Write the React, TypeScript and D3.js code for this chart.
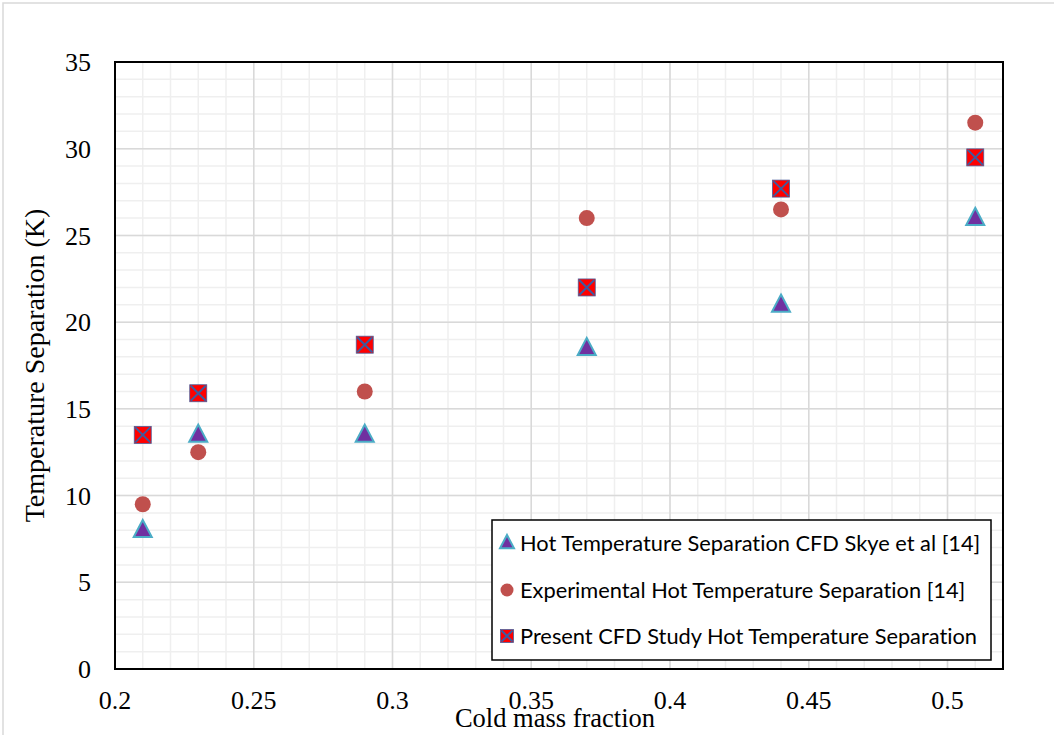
import * as d3 from 'd3';
import React from 'react';

// cold mass fraction values shared by all three series
const coldFraction = [0.21, 0.23, 0.29, 0.37, 0.44, 0.51];
const skyeCfd = [8, 13.5, 13.5, 18.5, 21, 26];
const experimental = [9.5, 12.5, 16, 26, 26.5, 31.5];
const presentCfd = [13.5, 15.9, 18.7, 22, 27.7, 29.5];

const xTickValues = [0.2, 0.25, 0.3, 0.35, 0.4, 0.45, 0.5];
const xTickLabels = ["0.2", "0.25", "0.3", "0.35", "0.4", "0.45", "0.5"];
const yTickValues = [0, 5, 10, 15, 20, 25, 30, 35];

const legendLabels = [
  "Hot Temperature Separation CFD Skye et al [14]",
  "Experimental Hot Temperature Separation [14]",
  "Present CFD Study Hot Temperature Separation",
];

const W = 1054, H = 735;
const plot = { left: 115, right: 1003, top: 62, bottom: 669 };

function Triangle({ x, y, s }: { x: number; y: number; s: number }) {
  const h = s * 0.95;
  const p = `M${x},${y - h * 0.6} L${x + s / 2},${y + h * 0.4} L${x - s / 2},${y + h * 0.4} Z`;
  return <path d={p} fill="#7030a0" stroke="#4bacc6" strokeWidth={2} strokeLinejoin="miter" />;
}

function Dot({ x, y, r }: { x: number; y: number; r: number }) {
  return <circle cx={x} cy={y} r={r} fill="#c0504d" />;
}

function CrossSquare({ x, y, s }: { x: number; y: number; s: number }) {
  const h = s / 2;
  return (
    <g>
      <rect x={x - h} y={y - h} width={s} height={s} fill="#ff0000" stroke="#4a5f9c" strokeWidth={0.8} />
      <path d={`M${x - h + 1},${y - h + 1} L${x + h - 1},${y + h - 1} M${x + h - 1},${y - h + 1} L${x - h + 1},${y + h - 1}`}
        stroke="#3f5a9e" strokeWidth={2} />
    </g>
  );
}

export default function App() {
  const x = d3.scaleLinear().domain([0.2, 0.52]).range([plot.left, plot.right]);
  const y = d3.scaleLinear().domain([0, 35]).range([plot.bottom, plot.top]);

  const xMinor = x.ticks(32);
  const yMinor = y.ticks(35);

  const serif = "'Liberation Serif', 'Times New Roman', serif";
  const sans = "Lato, 'Open Sans', sans-serif";

  const lg = { x: 492, y: 520, w: 499, h: 140 };
  const rowY = [543, 590, 636];

  return (
    <svg width={W} height={H} style={{ position: 'absolute', left: 0, top: 0, background: '#fff' }}>
      <rect x={3} y={3} width={W + 10} height={H + 10} fill="#fff" stroke="#d9d9d9" strokeWidth={1.5} />

      {/* minor grid */}
      <g stroke="#efefef" strokeWidth={1.5}>
        {xMinor.map(v => <line key={'xm' + v} x1={x(v)} x2={x(v)} y1={plot.top} y2={plot.bottom} />)}
        {yMinor.map(v => <line key={'ym' + v} y1={y(v)} y2={y(v)} x1={plot.left} x2={plot.right} />)}
      </g>
      {/* major grid */}
      <g stroke="#d9d9d9" strokeWidth={1.5}>
        {xTickValues.map(v => <line key={'xM' + v} x1={x(v)} x2={x(v)} y1={plot.top} y2={plot.bottom} />)}
        {yTickValues.map(v => <line key={'yM' + v} y1={y(v)} y2={y(v)} x1={plot.left} x2={plot.right} />)}
      </g>

      <rect x={plot.left} y={plot.top} width={plot.right - plot.left} height={plot.bottom - plot.top}
        fill="none" stroke="#000" strokeWidth={2} />

      {/* tick labels */}
      <g fontFamily={serif} fontSize={26} fill="#000">
        {yTickValues.map(v => (
          <text key={'yl' + v} x={91} y={y(v)} dy="0.35em" textAnchor="end">{v}</text>
        ))}
        {xTickValues.map((v, i) => (
          <text key={'xl' + v} x={x(v)} y={709} textAnchor="middle">{xTickLabels[i]}</text>
        ))}
      </g>

      <text x={555} y={727} textAnchor="middle" fontFamily={serif} fontSize={26.5}>
        Cold mass fraction
      </text>
      <text transform={`translate(44,${(plot.top + plot.bottom) / 2}) rotate(-90)`} textAnchor="middle"
        fontFamily={serif} fontSize={28}>
        Temperature Separation (K)
      </text>

      {/* series */}
      <g>
        {coldFraction.map((c, i) => <Triangle key={'t' + i} x={x(c)} y={y(skyeCfd[i])} s={18} />)}
        {coldFraction.map((c, i) => <Dot key={'c' + i} x={x(c)} y={y(experimental[i])} r={8} />)}
        {coldFraction.map((c, i) => <CrossSquare key={'s' + i} x={x(c)} y={y(presentCfd[i])} s={17} />)}
      </g>

      {/* legend */}
      <rect x={lg.x} y={lg.y} width={lg.w} height={lg.h} fill="#fff" stroke="#000" strokeWidth={1.5} />
      <Triangle x={507} y={rowY[0]} s={14} />
      <Dot x={507} y={rowY[1]} r={6.5} />
      <CrossSquare x={507} y={rowY[2]} s={13} />
      <g fontFamily={sans} fontSize={21.8} fill="#000" style={{ fontVariantLigatures: 'none' }}>
        {legendLabels.map((t, i) => (
          <text key={t} x={520} y={rowY[i]} dy="0.35em">{t}</text>
        ))}
      </g>
    </svg>
  );
}
